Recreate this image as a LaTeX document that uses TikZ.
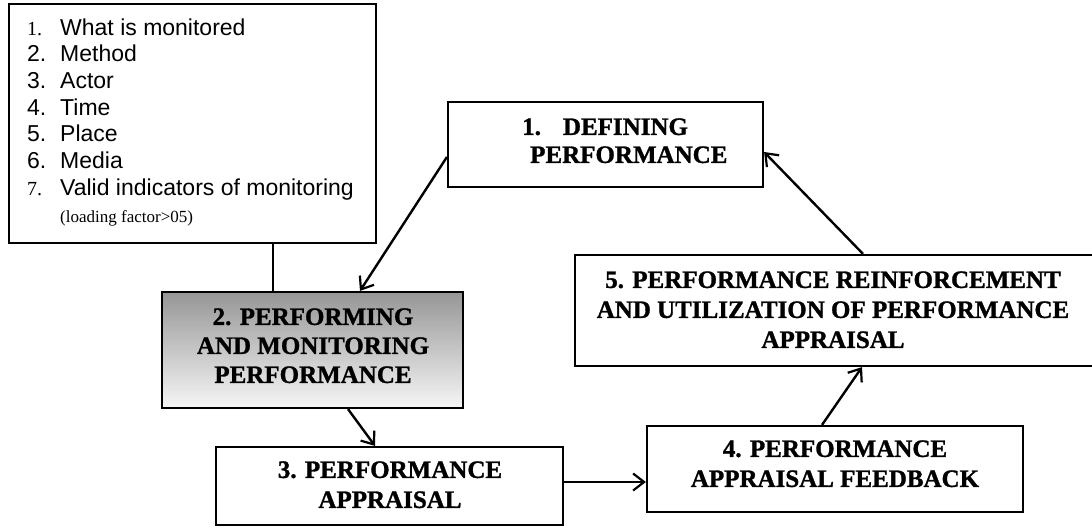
\documentclass[tikz,border=0pt]{standalone}
\usepackage{fontspec}
\setmainfont{Liberation Serif}[BoldFeatures={FakeBold=1.2}]
\setsansfont{Liberation Sans}
\usetikzlibrary{arrows.meta}

\begin{document}
\begin{tikzpicture}[x=1pt,y=1pt,
  box/.style={draw=black, line width=2.2pt, rectangle, inner sep=0pt},
  boxtext/.style={font=\bfseries\fontsize{25}{30}\selectfont, align=center, inner sep=0pt},
  flow/.style={line width=2.4pt, -{Straight Barb[length=11pt,width=17pt,line width=2.2pt]}},
  numsans/.style={anchor=base west, inner sep=0pt, font=\sffamily\fontsize{23}{27}\selectfont},
  numserif/.style={anchor=base west, inner sep=0pt, font=\rmfamily\fontsize{20}{24}\selectfont},
  itemtext/.style={anchor=base west, inner sep=0pt, font=\sffamily\fontsize{23}{27}\selectfont},
  note/.style={anchor=base west, inner sep=0pt, font=\rmfamily\fontsize{17}{20}\selectfont},
]
\useasboundingbox (0,0) rectangle (1092,-528);
\fill[white] (0,0) rectangle (1092,-528);

% monitoring checklist
\node[box, minimum width=367pt, minimum height=239pt] (list) at (192.5,-123.5) {};
\node[numserif] (n1) at (27,-35)    {1.};
\node[itemtext] (t1) at (60,-35)    {What is monitored};
\node[numsans]  (n2) at (27,-61.7)  {2.};
\node[itemtext] (t2) at (60,-61.7)  {Method};
\node[numsans]  (n3) at (27,-88.4)  {3.};
\node[itemtext] (t3) at (60,-88.4)  {Actor};
\node[numsans]  (n4) at (27,-115.1) {4.};
\node[itemtext] (t4) at (60,-115.1) {Time};
\node[numsans]  (n5) at (27,-141.8) {5.};
\node[itemtext] (t5) at (60,-141.8) {Place};
\node[numsans]  (n6) at (27,-168.5) {6.};
\node[itemtext] (t6) at (60,-168.5) {Media};
\node[numserif] (n7) at (27,-195.2) {7.};
\node[itemtext] (t7) at (60,-195.2) {Valid indicators of monitoring};
\node[note]     (t8) at (60,-222)   {(loading factor>05)};

% cycle boxes
\node[box, minimum width=315pt, minimum height=85pt] (b1) at (605.5,-144.5) {};
\node[box, minimum width=301pt, minimum height=116pt,
      top color={rgb,255:red,150;green,150;blue,150},
      bottom color={rgb,255:red,246;green,246;blue,246}] (b2) at (312.5,-350) {};
\node[box, minimum width=347pt, minimum height=78pt] (b3) at (389.5,-486) {};
\node[box, minimum width=376pt, minimum height=86pt] (b4) at (835,-469) {};
\node[box, minimum width=521pt, minimum height=111pt] (b5) at (835.5,-310.5) {};

% box labels
\node[boxtext, align=left, anchor=west, font=\bfseries\fontsize{25}{28}\selectfont] (b1t) at (522,-140.75)
  {1.\hspace{22pt}DEFINING\\\hspace*{8pt}PERFORMANCE};
\node[boxtext, font=\bfseries\fontsize{25}{29}\selectfont] (b2t) at (313,-345.75)
  {2. PERFORMING\\AND MONITORING\\PERFORMANCE};
\node[boxtext] (b3t) at (390,-484.75) {3. PERFORMANCE\\APPRAISAL};
\node[boxtext] (b4t) at (835,-463.75) {4. PERFORMANCE\\APPRAISAL FEEDBACK};
\node[boxtext] (b5t) at (833,-309.75)
  {5. PERFORMANCE REINFORCEMENT\\AND UTILIZATION OF PERFORMANCE\\APPRAISAL};

% checklist attached to step 2
\draw[line width=2.2pt] ([xshift=80.5pt]list.south) -- ([xshift=80.5pt]list.south |- b2.north);

% the cycle
\draw[flow] ([yshift=-12.5pt]b1.west) -- ([xshift=47.5pt]b2.north);
\draw[flow] ([xshift=35.5pt]b2.south) -- ([xshift=-14.5pt]b3.north);
\draw[flow] ([yshift=4pt]b3.east) -- ([yshift=4pt]b3.east -| b4.west);
\draw[flow] ([xshift=-13pt]b4.north) -- ([xshift=26.5pt]b5.south);
\draw[flow] ([xshift=27.5pt]b5.north) -- ([yshift=-7.5pt]b1.east);
\end{tikzpicture}
\end{document}
